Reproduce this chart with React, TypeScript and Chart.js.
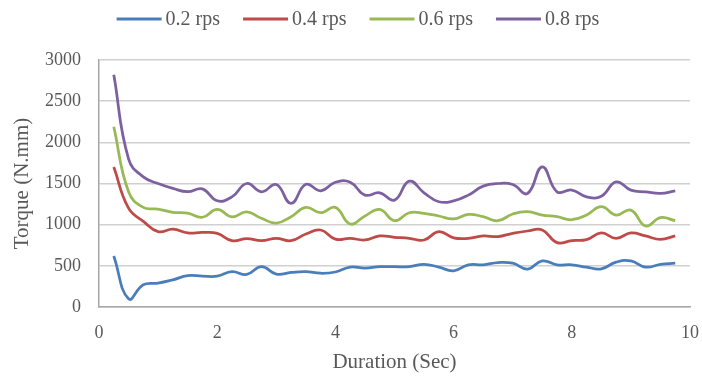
import { useEffect, useRef } from "react";
import { Chart, registerables } from "chart.js";

Chart.register(...registerables);

// Sampling instants (s)
const durations = [
  0.25, 0.5, 0.75, 1.0, 1.25, 1.5, 1.75, 2.0, 2.25, 2.5, 2.75, 3.0, 3.25,
  3.5, 3.75, 4.0, 4.25, 4.5, 4.75, 5.0, 5.25, 5.5, 5.75, 6.0, 6.25, 6.5,
  6.75, 7.0, 7.25, 7.5, 7.75, 8.0, 8.25, 8.5, 8.75, 9.0, 9.25, 9.5, 9.75,
];

// Torque (N.mm) at each rotation speed
const torque02 = [
  620, 100, 270, 290, 330, 380, 375, 375, 430, 395, 490, 400, 420, 430, 410,
  425, 485, 472, 490, 490, 490, 519, 484, 440, 512, 512, 540, 532, 460, 560,
  512, 512, 484, 464, 545, 560, 484, 519, 532,
];
const torque04 = [
  1700, 1200, 1040, 915, 945, 900, 905, 895, 806, 830, 806, 834, 806, 887,
  935, 825, 834, 814, 863, 847, 834, 814, 915, 840, 834, 863, 855, 895, 923,
  935, 782, 806, 818, 899, 834, 899, 863, 822, 863,
];
const torque06 = [
  2190, 1400, 1210, 1190, 1150, 1140, 1090, 1186, 1095, 1155, 1077, 1020,
  1097, 1210, 1145, 1210, 1008, 1105, 1186, 1048, 1145, 1137, 1105, 1070,
  1125, 1097, 1048, 1129, 1157, 1117, 1097, 1060, 1117, 1218, 1117, 1177,
  984, 1085, 1048,
];
const torque08 = [
  2820, 1800, 1580, 1500, 1440, 1400, 1435, 1290, 1338, 1500, 1399, 1488,
  1258, 1490, 1411, 1515, 1516, 1359, 1387, 1298, 1528, 1387, 1278, 1288,
  1359, 1468, 1500, 1488, 1379, 1702, 1399, 1420, 1338, 1346, 1520, 1419,
  1399, 1379, 1411,
];

const seriesLabels = ["0.2 rps", "0.4 rps", "0.6 rps", "0.8 rps"];
const seriesValues = [torque02, torque04, torque06, torque08];
const seriesColors = ["#4A7EBB", "#BE4B48", "#98B954", "#7D60A0"];

const FONT = '"Liberation Serif", "Times New Roman", serif';
const TEXT = "#595959";

// Horizontal legend drawn above the plot, line swatch + label per series
const topLegend = {
  id: "topLegend",
  afterDraw(chart: any) {
    const ctx = chart.ctx as CanvasRenderingContext2D;
    ctx.save();
    ctx.font = `20px ${FONT}`;
    ctx.textBaseline = "middle";
    ctx.textAlign = "left";
    const swatch = 45;
    const gapText = 4;
    const gapItem = 23;
    const items = chart.data.datasets.map((ds: any) => ({
      label: ds.label as string,
      color: ds.borderColor as string,
      w: ctx.measureText(ds.label).width,
    }));
    const total =
      items.reduce((s: number, it: any) => s + swatch + gapText + it.w, 0) +
      gapItem * (items.length - 1);
    let x = 358 - total / 2;
    const y = 19;
    for (const it of items) {
      ctx.strokeStyle = it.color;
      ctx.lineWidth = 3;
      ctx.beginPath();
      ctx.moveTo(x, y);
      ctx.lineTo(x + swatch, y);
      ctx.stroke();
      ctx.fillStyle = TEXT;
      ctx.fillText(it.label, x + swatch + gapText, y + 1);
      x += swatch + gapText + it.w + gapItem;
    }
    ctx.restore();
  },
};

export default function App() {
  const canvasRef = useRef<HTMLCanvasElement | null>(null);

  useEffect(() => {
    document.body.style.margin = "0";
    const canvas = canvasRef.current;
    if (!canvas) return;

    const datasets = seriesLabels.map((label, i) => ({
      label,
      data: durations.map((t, j) => ({ x: t, y: seriesValues[i][j] })),
      borderColor: seriesColors[i],
      backgroundColor: seriesColors[i],
      borderWidth: 2.75,
      pointRadius: 0,
      tension: 0.45,
      fill: false,
    }));

    const chart = new Chart(canvas, {
      type: "line",
      data: { datasets },
      plugins: [topLegend],
      options: {
        responsive: false,
        animation: false,
        layout: { padding: { top: 60, left: 0, right: 12, bottom: 0 } },
        plugins: {
          legend: { display: false },
          tooltip: { enabled: false },
        },
        scales: {
          x: {
            type: "linear",
            min: 0,
            max: 10,
            ticks: {
              stepSize: 2,
              padding: 15,
              color: TEXT,
              font: { family: FONT, size: 18 },
              callback: (v: any) => String(v),
            },
            grid: { display: false, drawTicks: false },
            border: { display: true, color: "#A6A6A6", width: 1.5 },
            title: {
              display: true,
              text: "Duration (Sec)",
              color: TEXT,
              font: { family: FONT, size: 21 },
              padding: { top: 0, bottom: 1 },
            },
            afterFit(scale: any) {
              scale.height = 69;
              scale.paddingLeft = 0;
              scale.paddingRight = 0;
            },
          },
          y: {
            min: 0,
            max: 3000,
            ticks: {
              stepSize: 500,
              padding: 18,
              color: TEXT,
              font: { family: FONT, size: 18 },
              callback: (v: any) => String(v),
            },
            grid: { color: "#D0D0D0", lineWidth: 1.5, drawTicks: false },
            border: { display: true, color: "#A6A6A6", width: 1.5 },
            title: {
              display: true,
              text: "Torque (N.mm)",
              color: TEXT,
              font: { family: FONT, size: 21 },
              padding: { top: 10, bottom: 0 },
            },
            afterFit(scale: any) {
              scale.width = 99;
              scale.paddingTop = 0;
              scale.paddingBottom = 0;
            },
          },
        },
      },
    } as any);

    return () => chart.destroy();
  }, []);

  return (
    <div style={{ width: 702, height: 376 }}>
      <canvas ref={canvasRef} width={702} height={376} />
    </div>
  );
}
